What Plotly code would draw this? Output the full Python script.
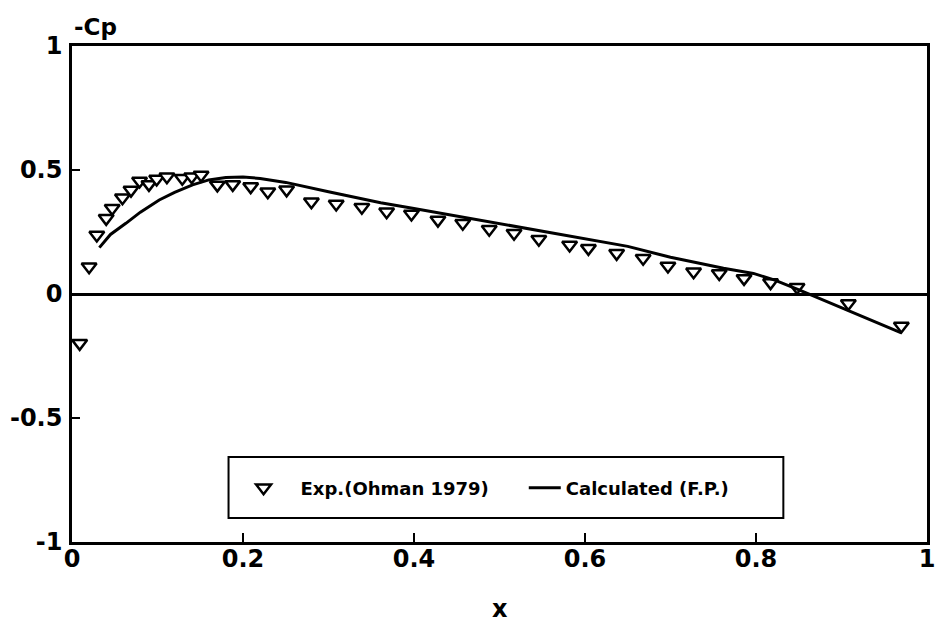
import plotly.graph_objects as go

# Experimental data (Ohman 1979)
exp_x = [0.009, 0.020, 0.029, 0.040, 0.047, 0.059, 0.069, 0.079, 0.090, 0.099,
         0.111, 0.129, 0.140, 0.151, 0.170, 0.188, 0.209, 0.229, 0.251, 0.280,
         0.309, 0.339, 0.368, 0.397, 0.428, 0.457, 0.488, 0.517, 0.546, 0.582,
         0.604, 0.637, 0.668, 0.697, 0.727, 0.757, 0.786, 0.817, 0.848, 0.908,
         0.970]
exp_cp = [-0.199, 0.110, 0.238, 0.305, 0.346, 0.388, 0.419, 0.456, 0.442, 0.464,
          0.473, 0.467, 0.473, 0.480, 0.440, 0.442, 0.433, 0.412, 0.420, 0.372,
          0.363, 0.350, 0.332, 0.323, 0.298, 0.285, 0.261, 0.245, 0.221, 0.198,
          0.184, 0.164, 0.144, 0.113, 0.090, 0.083, 0.063, 0.046, 0.027, -0.038,
          -0.129]

# Calculated (F.P.)
calc_x = [0.032, 0.045, 0.063, 0.080, 0.102, 0.120, 0.141, 0.160, 0.180, 0.200,
          0.220, 0.250, 0.300, 0.361, 0.400, 0.450, 0.500, 0.550, 0.612, 0.650,
          0.700, 0.762, 0.797, 0.822, 0.851, 0.900, 0.940, 0.970]
calc_cp = [0.187, 0.240, 0.285, 0.330, 0.379, 0.410, 0.440, 0.460, 0.470, 0.472,
           0.466, 0.450, 0.412, 0.368, 0.345, 0.315, 0.285, 0.253, 0.216, 0.192,
           0.148, 0.104, 0.083, 0.056, 0.016, -0.055, -0.115, -0.157]

x_ticks = [0, 0.2, 0.4, 0.6, 0.8, 1]
x_ticktext = ["0", "0.2", "0.4", "0.6", "0.8", "1"]
y_ticks = [-1, -0.5, 0, 0.5, 1]
y_ticktext = ["-1", "-0.5", "0", "0.5", "1"]

FONT = "DejaVu Sans"

fig = go.Figure()
fig.add_trace(go.Scatter(
    x=exp_x, y=exp_cp, mode="markers", name="Exp.(Ohman 1979)",
    marker=dict(symbol="triangle-down", size=13, color="white",
                line=dict(color="black", width=2.5)),
    legend="legend",
))
fig.add_trace(go.Scatter(
    x=calc_x, y=calc_cp, mode="lines", name="Calculated (F.P.)",
    line=dict(color="black", width=3),
    legend="legend2",
))

W, H = 943, 627
L, R, T, B = 72, 8, 46, 85
pw, ph = W - L - R, H - T - B

def px_x(p):
    return (p - L) / pw

def px_y(p):
    return (H - B - p) / ph

legfont = dict(family=FONT, size=18, color="black", weight="bold")
tickfont = dict(family=FONT, size=24, color="black", weight="bold")

fig.update_layout(
    width=W, height=H,
    margin=dict(l=L, r=R, t=T, b=B),
    paper_bgcolor="white", plot_bgcolor="white",
    showlegend=True,
    legend=dict(x=px_x(228), y=px_y(488), xanchor="left", yanchor="middle",
                orientation="h", font=legfont, bgcolor="rgba(0,0,0,0)",
                borderwidth=0, itemwidth=64),
    legend2=dict(x=px_x(528), y=px_y(488), xanchor="left", yanchor="middle",
                 orientation="h", font=legfont, bgcolor="rgba(0,0,0,0)",
                 borderwidth=0, itemwidth=32),
    xaxis=dict(range=[0, 1], tickvals=x_ticks, ticktext=x_ticktext,
               ticks="inside", ticklen=9, tickwidth=2, tickcolor="black",
               showline=True, linecolor="black", linewidth=2.5, mirror=True,
               showgrid=False, zeroline=False, ticklabelstandoff=-7,
               tickfont=tickfont),
    yaxis=dict(range=[-1, 1], tickvals=y_ticks, ticktext=y_ticktext,
               ticks="inside", ticklen=8, tickwidth=2, tickcolor="black",
               showline=True, linecolor="black", linewidth=2.5, mirror=True,
               showgrid=False, zeroline=True, zerolinecolor="black",
               zerolinewidth=2.5, ticklabelstandoff=2,
               tickfont=tickfont),
    shapes=[dict(type="rect", xref="paper", yref="paper",
                 x0=px_x(230), x1=px_x(790), y0=px_y(518), y1=px_y(457),
                 line=dict(color="black", width=2), fillcolor="rgba(0,0,0,0)")],
    annotations=[
        dict(text="-Cp", xref="paper", yref="paper", x=0, y=px_y(27),
             xanchor="left", yanchor="middle", showarrow=False,
             font=dict(family=FONT, size=23, color="black", weight="bold")),
        dict(text="x", xref="paper", yref="paper", x=0.5, y=px_y(609),
             xanchor="center", yanchor="middle", showarrow=False,
             font=dict(family=FONT, size=24, color="black", weight="bold")),
    ],
)

fig.write_html("out.html")
